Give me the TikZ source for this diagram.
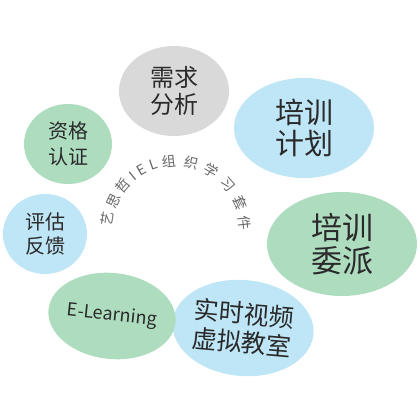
\documentclass[tikz,border=0pt]{standalone}
\usepackage{fontspec}
\newfontfamily\cjk{Noto Sans CJK SC}
\usetikzlibrary{shapes.geometric}
\definecolor{bubbleblue}{HTML}{BFE6F7}
\definecolor{bubblegreen}{HTML}{ADDCBF}
\definecolor{bubblegray}{HTML}{D9D9D9}
\definecolor{textgray}{HTML}{2A2A2A}
\definecolor{arcgray}{HTML}{666666}

\begin{document}
\begin{tikzpicture}[
	x=1pt, y=1pt,
	bubble/.style={
		ellipse,
		inner sep=0pt,
		align=center,
		text=textgray
	},
	arcchar/.style={
		anchor=base,
		inner sep=0pt,
		text=arcgray,
		font=\cjk\fontsize{14}{14}\selectfont
	}
]
\useasboundingbox (0,0) rectangle (420,420);

\node[bubble, fill=bubblegray, minimum width=110, minimum height=90,
	font=\cjk\fontsize{24}{27}\selectfont] (need) at (174,329) {需求\\分析};
\node[bubble, fill=bubbleblue, minimum width=140, minimum height=100,
	font=\cjk\fontsize{29}{31}\selectfont] (plan) at (304,292) {培训\\计划};
\node[bubble, fill=bubblegreen, minimum width=150, minimum height=104,
	font=\cjk\fontsize{31}{33}\selectfont] (assign) at (342,176) {培训\\委派};
\node[bubble, fill=bubbleblue, minimum width=126, minimum height=96, rotate=-5,
	font=\cjk\fontsize{25}{29}\selectfont] (video) at (243,92) {实时视频\\虚拟教室};
\node[bubble, fill=bubblegreen, minimum width=96, minimum height=86, rotate=-6,
	font=\cjk\fontsize{18}{18}\selectfont] (elearn) at (112,104) {E-Learning};
\node[bubble, fill=bubbleblue, minimum width=84, minimum height=80,
	font=\cjk\fontsize{20}{24}\selectfont] (eval) at (45,186) {评估\\反馈};
\node[bubble, fill=bubblegreen, minimum width=88, minimum height=80,
	font=\cjk\fontsize{20}{26}\selectfont] (cert) at (68,276) {资格\\认证};

\begin{scope}[shift={(176,190)}]
	\foreach \ch/\ang [count=\i] in {艺/171,思/155,哲/140,I/129,E/120,L/109,组/96,织/77,学/59,习/41,套/23,件/6}
		\node[arcchar, rotate=\ang-90] (c\i) at (\ang:64) {\ch};
\end{scope}
\end{tikzpicture}
\end{document}
